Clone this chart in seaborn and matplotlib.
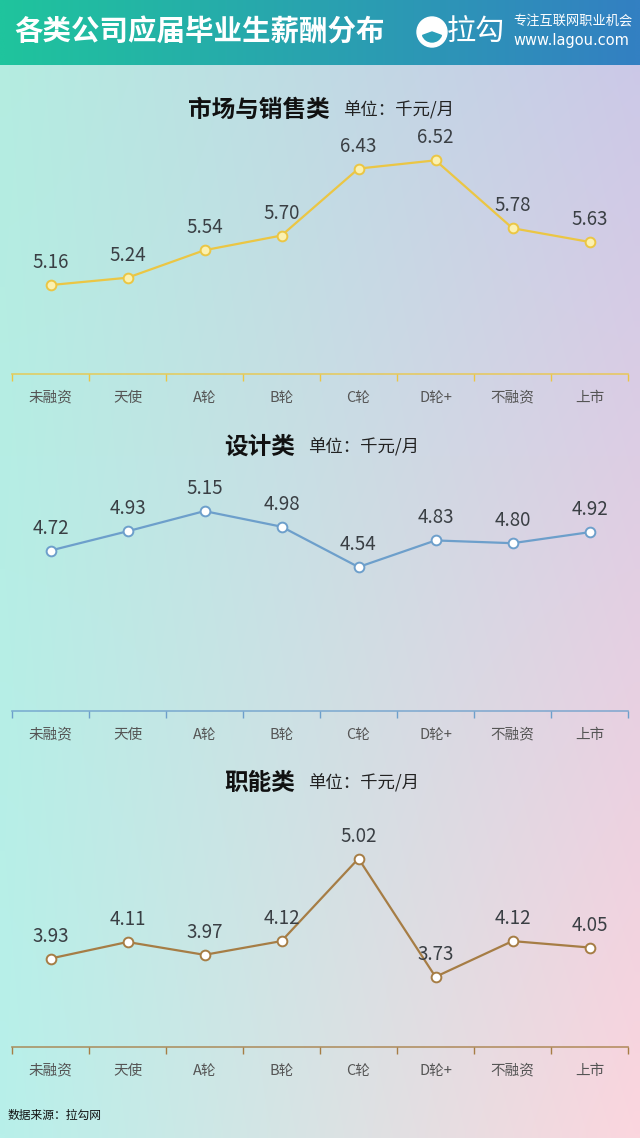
import numpy as np
import pandas as pd
import seaborn as sns
import matplotlib.pyplot as plt
from matplotlib.patches import Circle, Wedge

stages = ["未融资", "天使", "A轮", "B轮", "C轮", "D轮+", "不融资", "上市"]
market_sales = [5.16, 5.24, 5.54, 5.70, 6.43, 6.52, 5.78, 5.63]
design = [4.72, 4.93, 5.15, 4.98, 4.54, 4.83, 4.80, 4.92]
functional = [3.93, 4.11, 3.97, 4.12, 5.02, 3.73, 4.12, 4.05]

titles = ["市场与销售类", "设计类", "职能类"]
unit = "单位：千元/月"

sns.set_theme(style="white")
plt.rcParams['font.family'] = ['Noto Sans CJK SC', 'DejaVu Sans']

W, H = 640, 1138
fig = plt.figure(figsize=(W / 100, H / 100), dpi=100)


def fx(x):
    return x / W


def fy(y):
    return 1 - y / H


# background gradient (4 corners), drawn in pixel coordinates
bg = fig.add_axes([0, 0, 1, 1])
bg.set_axis_off()
tl = np.array([0xb4, 0xec, 0xe0]) / 255
tr = np.array([0xc9, 0xc8, 0xe8]) / 255
bl = np.array([0xb8, 0xf0, 0xea]) / 255
br = np.array([0xfb, 0xd6, 0xde]) / 255
u = np.linspace(0, 1, 64)[None, :, None]
v = np.linspace(0, 1, 128)[:, None, None]
img = (1 - v) * ((1 - u) * tl + u * tr) + v * ((1 - u) * bl + u * br)
bg.imshow(img, aspect="auto", extent=[0, W, H, 0], interpolation="bilinear")
# header band
hl = np.array([0x1f, 0xc4, 0x9d]) / 255
hr = np.array([0x33, 0x80, 0xc2]) / 255
hb = (1 - u[0]) * hl + u[0] * hr
bg.imshow(hb[None, :, :], aspect="auto", extent=[0, W, 65, 0],
          interpolation="bilinear")
bg.set_xlim(0, W)
bg.set_ylim(H, 0)

fig.text(fx(14), fy(33), "各类公司应届毕业生薪酬分布", color="white",
         fontsize=20.5, fontweight="bold", va="center", ha="left")
bg.add_patch(Circle((432, 32), 15, color="white"))
bg.add_patch(Wedge((432, 32), 10, 20, 160, color="#2a9fb8"))
fig.text(fx(447), fy(33), "拉勾", color="white", fontsize=21,
         va="center", ha="left")
fig.text(fx(513), fy(21), "专注互联网职业机会", color="white", fontsize=9.5,
         va="center", ha="left")
fig.text(fx(513), fy(41), "www.lagou.com", color="white", fontsize=10.5,
         va="center", ha="left", family="DejaVu Sans")

panels = [
    dict(values=market_sales, title=titles[0], color="#ebc644",
         face="#fbf1b0", top=130, bottom=374, ymin=4.19, ty=110, tx=330),
    dict(values=design, title=titles[1], color="#6d9fcb",
         face="white", top=470, bottom=711, ymin=2.97, ty=447, tx=295),
    dict(values=functional, title=titles[2], color="#a67d45",
         face="white", top=806, bottom=1047, ymin=2.965, ty=783, tx=295),
]
px_per_unit = 91.7

for p in panels:
    ax = fig.add_axes([fx(12), fy(p["bottom"]), 616 / W,
                       (p["bottom"] - p["top"]) / H])
    ax.patch.set_alpha(0)
    df = pd.DataFrame({"stage": stages, "value": p["values"]})
    sns.lineplot(data=df, x="stage", y="value", ax=ax, color=p["color"],
                 linewidth=1.6, marker="o", markersize=7,
                 markerfacecolor=p["face"], markeredgecolor=p["color"],
                 markeredgewidth=1.4)
    ax.set_xlim(-0.5, len(stages) - 0.5)
    ymin = p["ymin"]
    ax.set_ylim(ymin, ymin + (p["bottom"] - p["top"]) / px_per_unit)
    for i, val in enumerate(p["values"]):
        ax.annotate(f"{val:.2f}", (i, val), xytext=(0, 17),
                    textcoords="offset pixels", ha="center", va="baseline",
                    fontsize=13.5, color="#3a3f44")
    for s in ["top", "left", "right"]:
        ax.spines[s].set_visible(False)
    ax.spines["bottom"].set_color(p["color"])
    ax.spines["bottom"].set_alpha(0.8)
    ax.spines["bottom"].set_linewidth(1.2)
    ax.set_xticks(np.arange(-0.5, len(stages)), minor=True)
    ax.tick_params(axis="x", which="minor", length=5, width=1,
                   color=p["color"], direction="out", bottom=True)
    ax.tick_params(axis="x", which="major", length=0, pad=12,
                   labelsize=10.5, labelcolor="#555555")
    ax.set_yticks([])
    ax.set_xlabel("")
    ax.set_ylabel("")
    ax.grid(False)

    fig.text(fx(p["tx"]), fy(p["ty"]), p["title"], fontsize=17,
             fontweight="bold", color="#111111", ha="right", va="center")
    fig.text(fx(p["tx"] + 13), fy(p["ty"]), unit, fontsize=12.5,
             color="#222222", ha="left", va="center")

fig.text(fx(8), fy(1115), "数据来源：拉勾网", fontsize=8.5, color="#111111",
         ha="left", va="center")

fig.savefig("out.png", dpi=100)
